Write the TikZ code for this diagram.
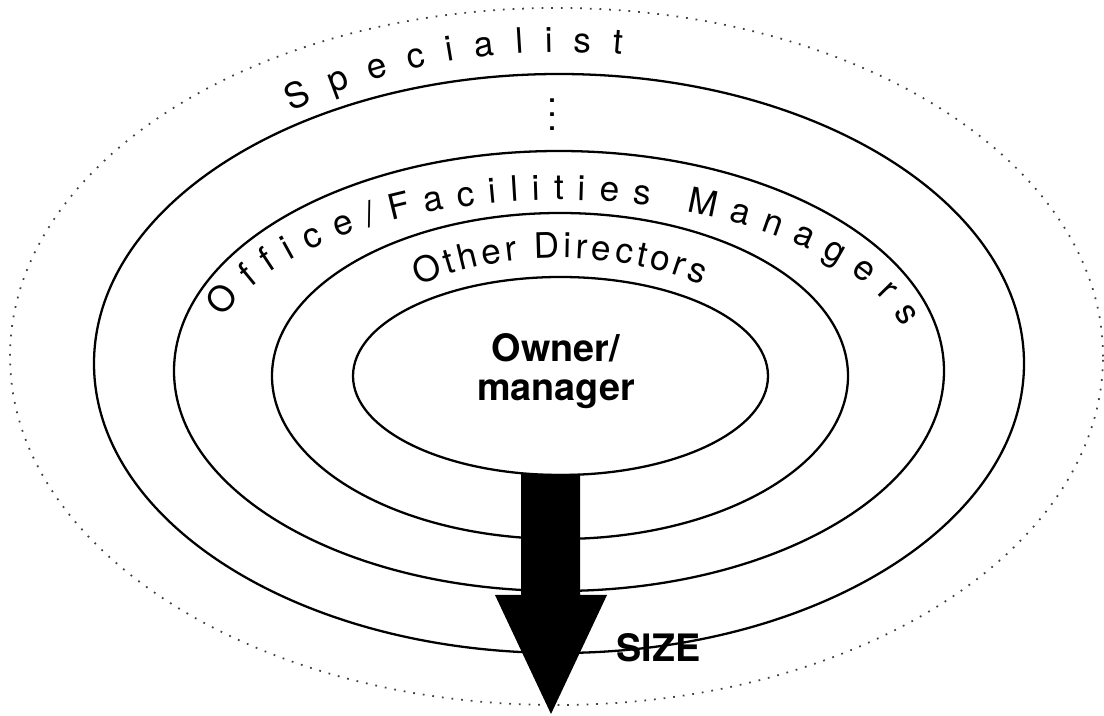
\documentclass[tikz,border=0pt]{standalone}
\usepackage{fontspec}
\setmainfont{TeX Gyre Heros}
\usepackage{tikz}
\usetikzlibrary{shapes.geometric,decorations.text}
\newcommand{\RingFont}{\fontsize{20}{24}\selectfont}
\newcommand{\CoreFont}{\fontsize{21.5}{22}\selectfont\bfseries}

\begin{document}
\begin{tikzpicture}[
    ring/.style={ellipse, draw=black, line width=1.3pt, inner sep=0pt},
    field/.style={ellipse, draw=black!75, line width=1pt, dash pattern=on 1pt off 4.5pt, inner sep=0pt},
    arclabel/.style={decorate, decoration={text along path, text align={fit to path}}}
]
\useasboundingbox (0,0) rectangle (22.08,14.32);

\node[field, minimum width=21.86cm, minimum height=13.94cm] (field) at (11.13, 7.19) {};
\node[ring, minimum width=18.6cm, minimum height=11.58cm] (spec) at (11.18, 7.05) {};
\node[ring, minimum width=15.4cm, minimum height=8.8cm] (facil) at (11.18, 6.90) {};
\node[ring, minimum width=11.52cm, minimum height=6.52cm] (dirs) at (11.20, 6.80) {};
\node[ring, minimum width=8.3cm, minimum height=3.96cm] (owner) at (11.21, 6.80) {};

\path[arclabel, decoration={text={|\RingFont|Specialist}}]
    ([shift={(126:9.2 and 6.26)}]11.24,7.02) arc[start angle=126, end angle=82.5, x radius=9.2, y radius=6.26];
\path[arclabel, decoration={text={|\RingFont|Office/Facilities Managers}}]
    ([shift={(161.5:7.1 and 3.44)}]11.2,6.88) arc[start angle=161.5, end angle=15, x radius=7.1, y radius=3.44];
\path[arclabel, decoration={text={|\RingFont|Other Directors}}]
    ([shift={(130:4.4 and 2.36)}]11.2,6.8) arc[start angle=130, end angle=50, x radius=4.4, y radius=2.36];

\node[anchor=base, scale=2.05] (gap) at (11.06, 11.70) {$\vdots$};

\node[font=\CoreFont, align=center] (core) at (11.12, 6.90) {Owner/\\manager};

% サイズの矢印
\fill (10.42,4.84) -- (10.42,2.42) -- (9.90,2.42) -- (11.02,0.04)
    -- (12.14,2.42) -- (11.60,2.42) -- (11.60,4.84) -- cycle;
\node[font=\CoreFont, anchor=base] (size) at (13.17, 1.08) {SIZE};
\end{tikzpicture}
\end{document}
